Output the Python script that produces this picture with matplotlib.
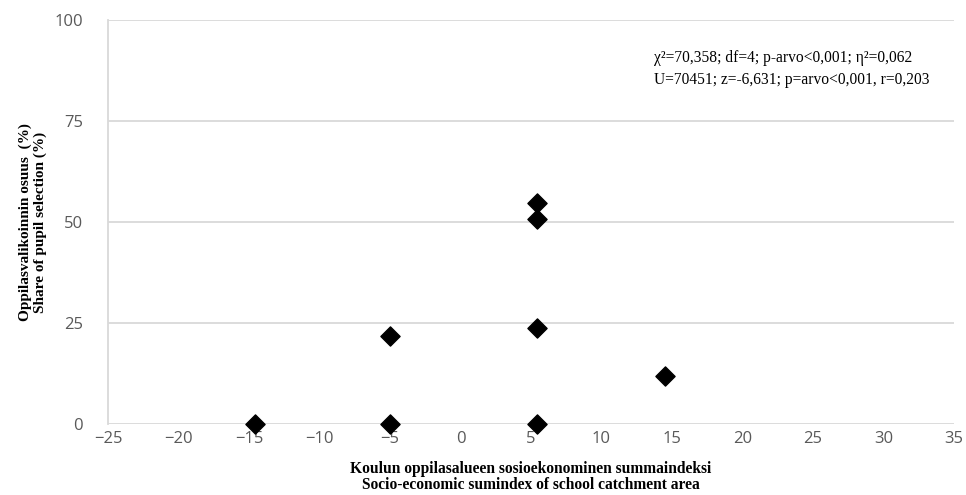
import matplotlib
matplotlib.use("Agg")
import matplotlib.pyplot as plt

# Data
x_vals = [-14.6, -5.0, -5.0, 5.4, 5.4, 5.4, 5.4, 14.5]
y_vals = [0.0, 0.0, 21.8, 0.0, 23.7, 50.7, 54.8, 11.9]
x_ticks = [-25, -20, -15, -10, -5, 0, 5, 10, 15, 20, 25, 30, 35]
y_ticks = [0, 25, 50, 75, 100]

x_label = "Koulun oppilasalueen sosioekonominen summaindeksi\nSocio-economic sumindex of school catchment area"
y_label = "Oppilasvalikoinnin osuus  (%)\nShare of pupil selection (%)"
stats_text = ("\u03c7\u00b2=70,358; df=4; p-arvo<0,001; \u03b7\u00b2=0,062\n"
              "U=70451; z=-6,631; p=arvo<0,001, r=0,203")

fig = plt.figure(figsize=(9.66, 4.95), dpi=100)
ax = fig.add_axes([108/966, 1-424/495, (954-108)/966, (424-20)/495])

ax.scatter(x_vals, y_vals, marker='D', s=95, color='black', zorder=3, clip_on=False)

ax.set_xlim(-25, 35)
ax.set_ylim(0, 100)
ax.set_xticks(x_ticks)
ax.set_yticks(y_ticks)
ax.set_xticklabels([("\u2212" + str(-t)) if t < 0 else str(t) for t in x_ticks])
ax.yaxis.grid(True, color='#d9d9d9', linewidth=1.3)
ax.set_axisbelow(True)
for s in ['top', 'right', 'bottom']:
    ax.spines[s].set_visible(False)
ax.spines['left'].set_color('#d9d9d9')
ax.spines['left'].set_linewidth(1.3)
ax.tick_params(length=0, labelsize=12, labelcolor='#595959')
for lab in ax.get_xticklabels() + ax.get_yticklabels():
    lab.set_family(['Open Sans', 'DejaVu Sans'])
ax.tick_params(axis='x', pad=5)
ax.tick_params(axis='y', pad=18)

ax.set_xlabel(x_label, family='Liberation Serif', fontweight='bold', fontsize=11.2,
              linespacing=1.05, labelpad=10)
ax.set_ylabel(y_label, family='Liberation Serif', fontweight='bold', fontsize=11,
              linespacing=1.2, labelpad=5)

fig.text(654/966, 1-50/495, stats_text, family='Liberation Serif', fontsize=11.2,
         va='top', ha='left', linespacing=1.5)

fig.savefig("out.png", dpi=100)
